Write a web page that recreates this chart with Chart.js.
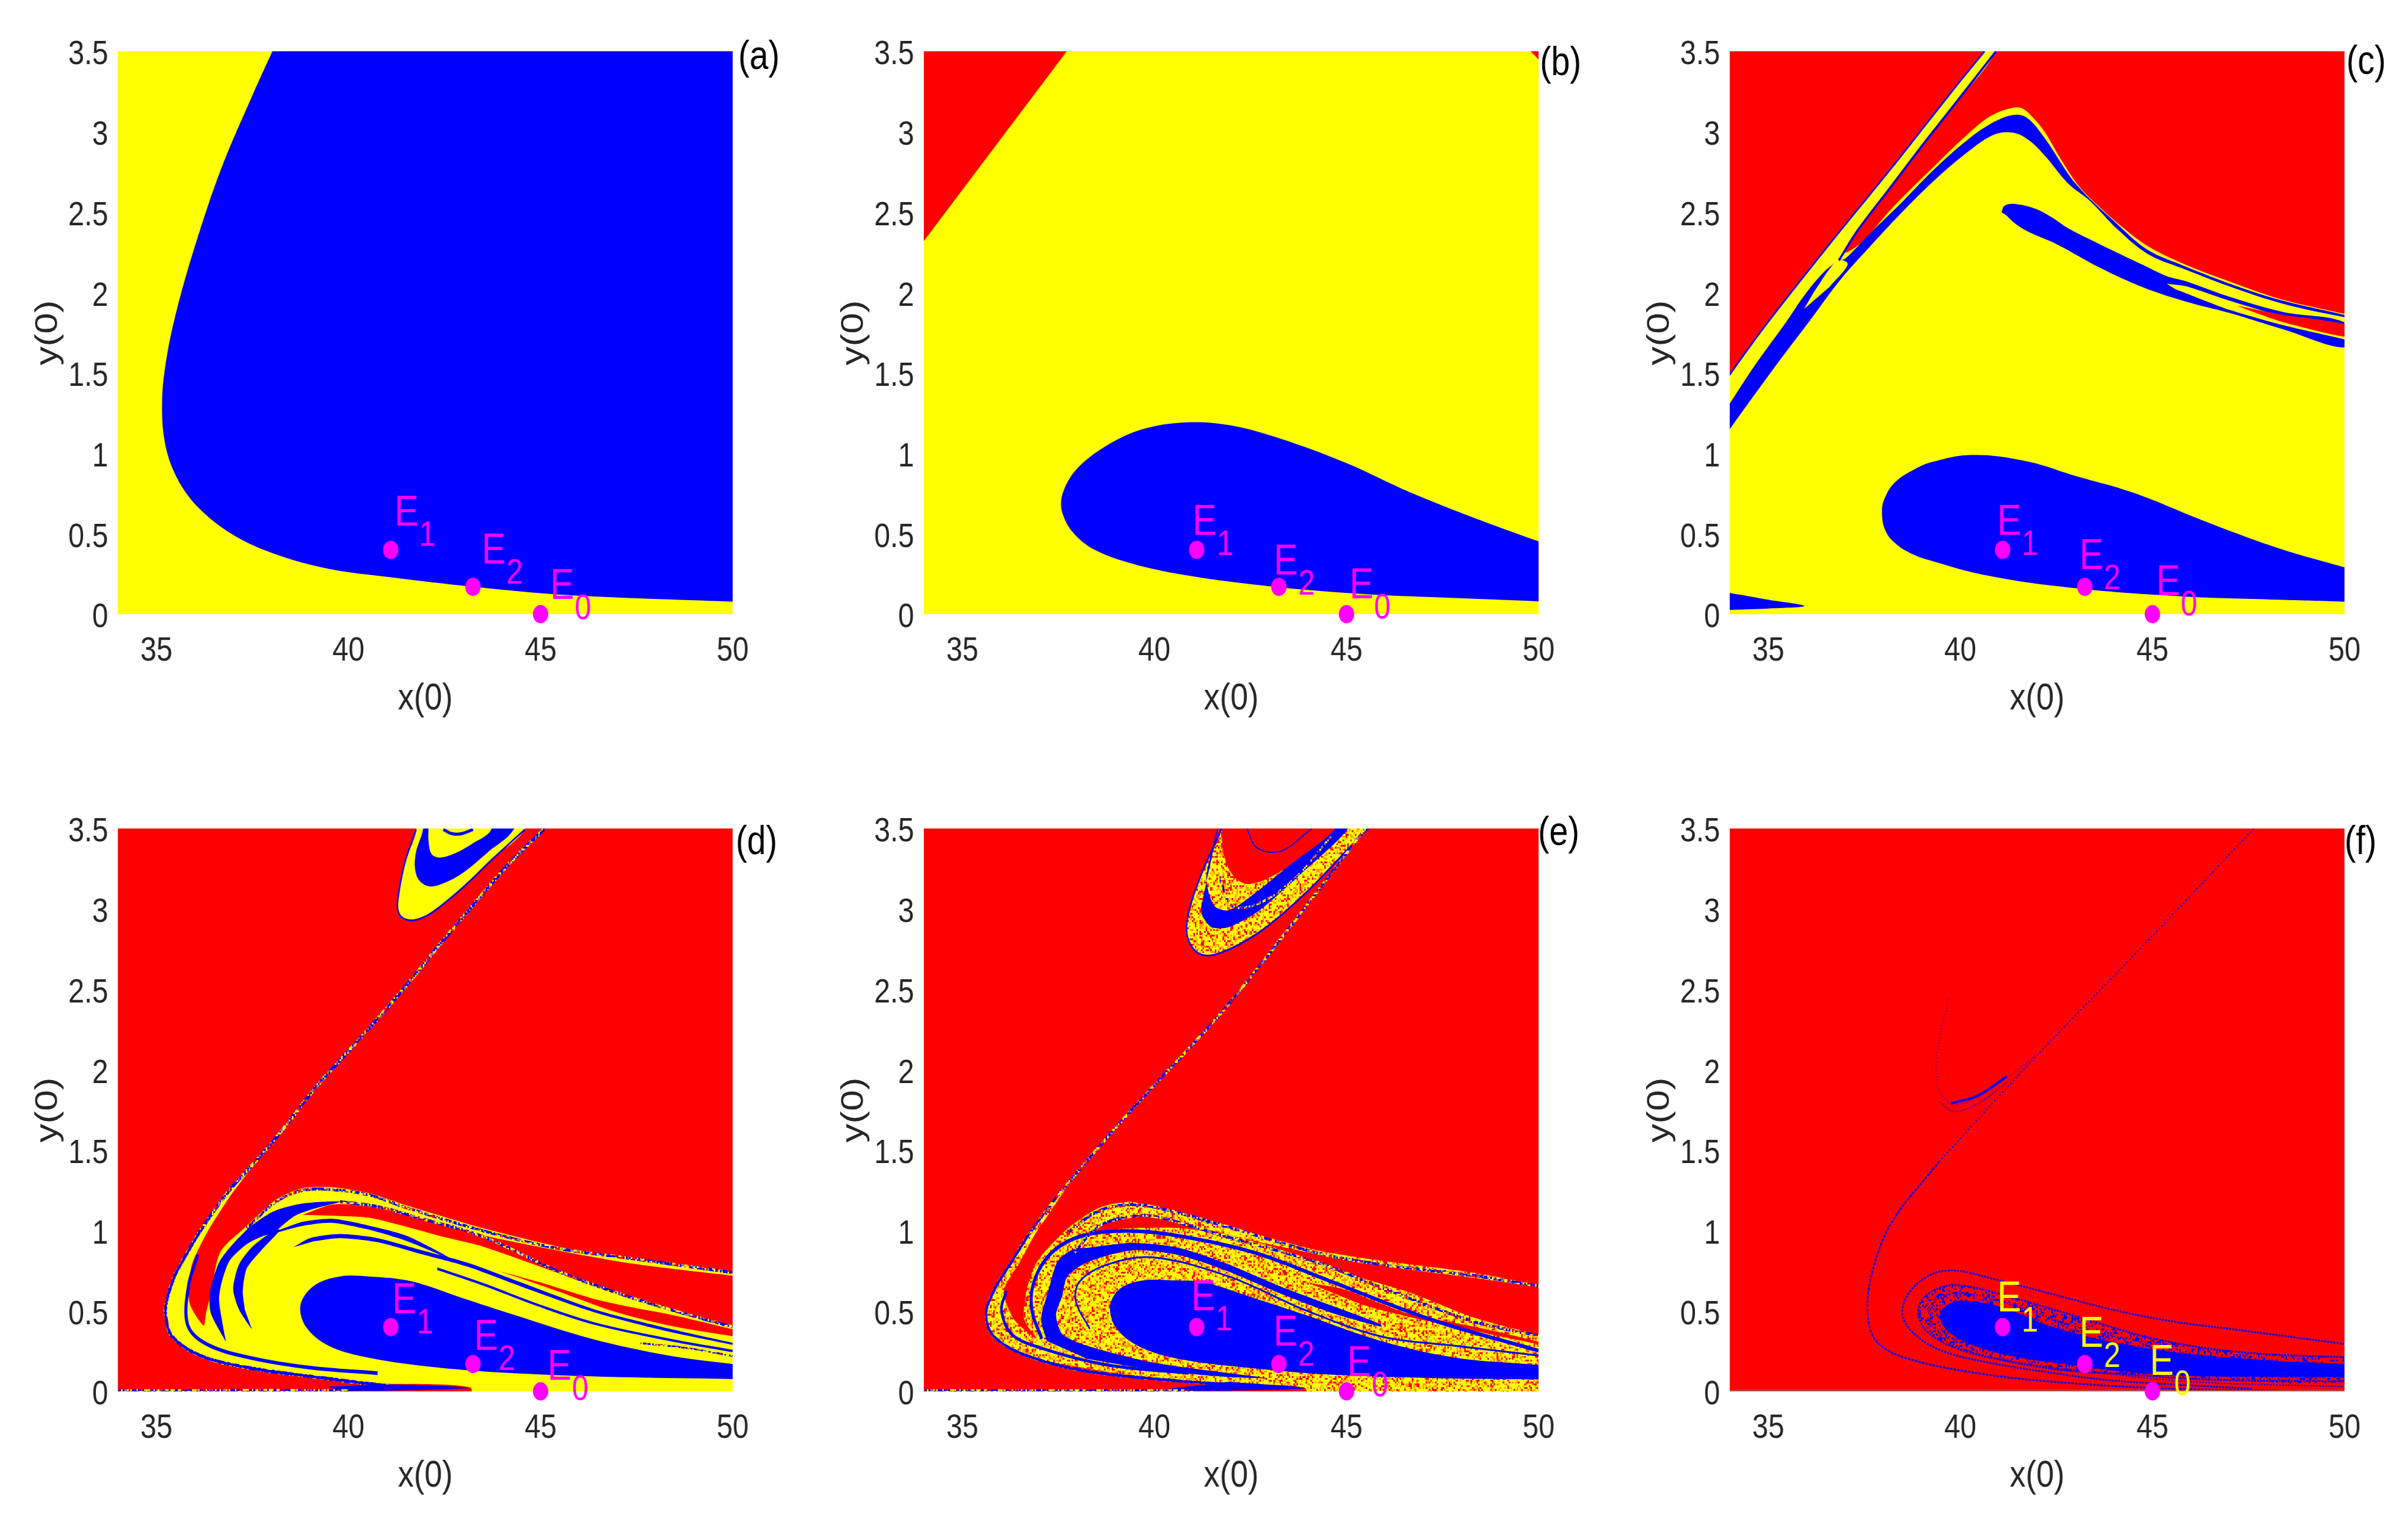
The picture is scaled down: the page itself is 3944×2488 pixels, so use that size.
<!DOCTYPE html>
<html><head><meta charset="utf-8">
<script src="https://cdn.jsdelivr.net/npm/chart.js@4"></script>
<style>html,body{margin:0;background:#fff}#root{position:relative;width:3944px;height:2488px;overflow:hidden}canvas{position:absolute}</style>
</head><body><div id="root"></div>
<script>
const xTicks=[35,40,45,50];
const yTicks=[0,0.5,1,1.5,2,2.5,3,3.5];
const equilibria=[[41.1,0.40],[43.24,0.17],[45,0]];
const eqNames=['1','2','0'];
const panelNames=['(a)','(b)','(c)','(d)','(e)','(f)'];
// label anchors (data units)
const labelsA=[[41.2,0.552],[43.47,0.315],[45.25,0.096]];
const labelsB=[[40.99,0.494],[43.11,0.246],[45.08,0.097]];
const labelsC=[[40.96,0.495],[43.1,0.282],[45.1,0.117]];
const labelsD=[[41.14,0.485],[43.27,0.259],[45.18,0.074]];
const labelsE=[[40.96,0.506],[43.1,0.283],[45.02,0.095]];
const labelsF=[[40.96,0.497],[43.1,0.277],[44.93,0.104]];

// (a)
const aBlue=[[38.6,3.8],[38.02,3.5],[37.48,3.215],[36.68,2.765],[36.0,2.285],[35.54,1.9],[35.27,1.6],[35.15,1.326],[35.23,1.056],[35.54,.846],[36.08,.666],[36.95,.5],[38.02,.38],[39.49,.282],[41.1,.23],[43.24,.171],[45.65,.12],[50,.078],[52,.06],[52,4.5],[39,4.5]];
// (b)
const bRedLeft=[[34,2.32],[37.72,3.5],[34,3.5]];
const bRedCorner=[[49.79,3.5],[50,3.45],[50,3.5]];
const bBlue=[[51.5,.33],[50,.453],[48.33,.598],[46.64,.759],[44.96,.943],[43.27,1.092],[42.01,1.173],[40.85,1.193],[39.69,1.15],[38.74,1.046],[38.0,.908],[37.64,.77],[37.58,.655],[37.85,.517],[38.43,.402],[39.48,.31],[40.95,.237],[43.06,.172],[45.38,.126],[47.5,.103],[50,.08],[51.5,.06]];
// (c)
const cYellow=[[33.5,1.31],[34,1.49],[35.01,1.821],[36.6,2.302],[38.19,2.769],[39.78,3.25],[40.63,3.5],[40.8,3.6],[40.93,3.5],[39.78,3.148],[39.03,2.921],[38.19,2.656],[37.34,2.39],[36.99,2.25],[37.44,2.314],[38.19,2.516],[39.25,2.769],[40.31,3.01],[40.84,3.104],[41.37,3.149],[41.63,3.142],[41.9,3.085],[42.2,2.997],[42.6,2.835],[43.09,2.66],[43.65,2.525],[44.2,2.41],[44.87,2.29],[45.76,2.184],[46.99,2.07],[48.38,1.956],[50.08,1.862],[51,1.8],[51,-.5],[33,-.5],[33,1.1]];
const cStripOuter=[[33.5,1.31],[34,1.49],[35.01,1.821],[36.6,2.302],[38.19,2.769],[39.78,3.25],[40.63,3.5]];
const cStripInner=[[36.84,2.2],[37.34,2.39],[38.19,2.656],[39.03,2.921],[39.78,3.148],[40.93,3.5]];
const cBlueBand=[[33.5,1.13],[34,1.31],[34.64,1.543],[35.48,1.821],[35.93,1.979],[36.44,2.125],[36.84,2.2],[37.0,2.21],[37.66,2.371],[38.45,2.554],[39.25,2.75],[40.04,2.921],[40.73,3.041],[41.37,3.104],[41.74,3.085],[42.2,2.959],[43.0,2.677],[44.09,2.424],[44.87,2.266],[45.76,2.171],[46.99,2.057],[48.38,1.95],[50.08,1.855],[50.08,1.843],[48.38,1.931],[46.99,2.039],[45.76,2.152],[44.87,2.241],[44.09,2.393],[43.37,2.57],[42.81,2.677],[42.2,2.851],[41.79,2.946],[41.37,2.994],[40.84,2.978],[40.04,2.845],[39.25,2.681],[38.45,2.491],[37.66,2.289],[36.86,2.074],[36.07,1.821],[35.19,1.543],[34,1.15],[33.5,.97]];
const cSliver=[[35.93,1.897],[36.28,2.036],[36.81,2.2],[37.07,2.175],[36.6,2.036]];
const cTail=[[41.07,2.5],[41.15,2.54],[41.42,2.551],[41.98,2.519],[42.4,2.465],[42.81,2.399],[43.65,2.298],[44.76,2.171],[45.37,2.102],[45.87,2.07],[46.99,1.975],[48.38,1.88],[50.08,1.805],[50.08,1.659],[48.38,1.773],[46.99,1.874],[45.87,1.944],[44.76,2.032],[43.65,2.152],[42.53,2.298],[41.75,2.38],[41.42,2.43],[41.2,2.48]];
const cTailSliver=[[45.37,2.055],[45.87,2.039],[46.99,1.95],[48.38,1.855],[50.08,1.792],[51,1.74],[51,1.65],[50.08,1.704],[48.38,1.798],[46.99,1.893],[46.15,1.969],[45.6,2.02]];
const cTailRed=[[47.21,1.918],[48.38,1.862],[50.08,1.798],[50.08,1.723],[48.38,1.817],[47.54,1.887]];
const cCorner=[[33.5,.15],[34,.132],[35,.09],[35.94,.051],[35,.035],[34,.027],[33.5,.025]];
const cDrop=[[51,.22],[50,.291],[48.27,.411],[46.38,.576],[44.49,.756],[42.98,.861],[41.72,.951],[40.33,.99],[39.32,.95],[38.8,.9],[38.3,.82],[38.03,.72],[37.96,.63],[38.05,.52],[38.31,.44],[38.7,.38],[39.19,.336],[40.71,.24],[42.98,.162],[45.75,.111],[48.27,.09],[50,.078],[51,.07]];
// (d)
const dYellow=[[50.8,.72],[50,.738],[47.37,.826],[45.43,.902],[43.48,1.016],[41.53,1.155],[40.56,1.231],[39.58,1.269],[38.8,1.263],[38.12,1.193],[37.35,1.029],[36.66,.865],[36.42,.612],[36.29,.485],[36.23,.409],[35.88,.536],[35.84,.662],[35.94,.8],[36.35,1.0],[36.88,1.2],[37.69,1.46],[36.74,1.2],[36.15,1.0],[35.69,.814],[35.47,.714],[35.27,.565],[35.24,.476],[35.41,.342],[36.14,.223],[37.35,.149],[38.95,.095],[40.56,.05],[43.17,.024],[43.25,-.1],[51,-.1]];
const dRed2=[[38.8,1.098],[39.58,1.162],[40.56,1.149],[41.53,1.098],[43.48,.972],[45.43,.877],[47.37,.795],[50,.719],[51,.7],[51,.38],[50,.41],[48.35,.517],[46.89,.612],[45.43,.738],[43.48,.902],[42.5,.959],[41.53,1.022],[40.56,1.079],[39.58,1.092]];
const dRed3=[[43.87,.751],[44.94,.681],[46.4,.574],[47.37,.523],[48.35,.479],[50,.386],[51,.33],[51,.32],[50,.344],[48.35,.409],[46.89,.498],[45.43,.624],[44.45,.706]];
const dDrop=[[51,.14],[50,.17],[48.33,.223],[46.32,.327],[44.31,.476],[42.97,.58],[41.63,.685],[40.56,.714],[39.76,.714],[39.09,.655],[38.75,.536],[38.89,.402],[39.49,.283],[40.56,.208],[42.3,.149],[44.31,.113],[46.99,.089],[50,.077],[51,.07]];
const dDiag=[[45.11,3.5],[44.17,3.279],[43.43,3.077],[42.31,2.76],[41.63,2.56],[40.4,2.22],[39.2,1.905],[38.27,1.623],[37.69,1.458],[36.9,1.25],[36.15,1.0],[35.69,.814],[35.47,.714],[35.27,.565],[35.24,.476],[35.41,.342],[36.14,.223],[37.35,.149],[38.95,.095],[41.14,.03]];
const dSpike=[[39.5,.03],[41.14,.043],[43.14,.022],[41.14,.005],[39.7,.002]];
const dArcC=[[36.08,.85],[35.84,.66],[35.81,.417],[36.28,.298],[37.35,.214],[38.95,.149],[40.76,.113]];
const dArcB=[[36.81,.308],[36.42,.485],[36.39,.612],[36.66,.814],[37.35,1.004],[38.03,1.117],[38.8,1.168],[39.78,1.18],[39.1,1.136],[38.61,1.092],[38.17,1.004],[38.8,1.054],[39.58,1.073],[40.56,1.029],[41.53,.966],[42.7,.82],[41.53,.934],[40.56,1.004],[39.58,1.048],[38.8,1.029],[38.17,.99],[37.78,.966],[37.35,.915],[36.91,.814],[36.71,.687],[36.63,.574],[36.71,.435]];
const dArcD=[[37.49,.384],[37.15,.51],[37.0,.637],[37.15,.789],[37.5,.9],[38.0,.99],[38.22,1.004],[37.73,.877],[37.35,.763],[37.25,.624],[37.3,.51]];
const dArcE=[[38.56,.896],[39.0,.953],[39.78,.978],[40.75,.953],[41.92,.877],[43.09,.801],[44.45,.681],[46.4,.51],[48.35,.39],[50,.302],[51,.25],[51,.23],[50,.289],[48.35,.371],[46.4,.492],[44.45,.656],[43.09,.776],[41.92,.852],[40.75,.928],[39.78,.953],[39.1,.934]];
const dStrand2=[[42.31,.763],[43.48,.668],[44.94,.536],[46.4,.422],[48.35,.321],[50,.251]];
const dStrand3=[[47.6,.3],[48.8,.27],[50,.22]];
const dTop=[[50,.738],[47.37,.826],[45.43,.89],[43.48,1.0],[41.53,1.14],[40.56,1.22],[39.58,1.255],[38.8,1.25],[38.12,1.18],[37.35,1.015]];
const dMid=[[39.78,1.18],[40.75,1.149],[42.02,1.067],[43.48,.965],[45.43,.75],[46.89,.62],[48.35,.51],[50,.40]];
const dBase=[[34,.006],[36,.006],[38,.008],[40,.006]];
const dLobe=[[41.6,3.7],[41.76,3.494],[41.47,3.29],[41.31,3.102],[41.28,3.0],[41.41,2.944],[41.73,2.931],[42.16,2.975],[42.95,3.127],[43.75,3.31],[44.59,3.494],[44.8,3.7]];
const dLobeBlue=[[42.0,3.7],[41.94,3.494],[41.76,3.355],[41.73,3.253],[41.84,3.178],[42.1,3.14],[42.47,3.159],[43.0,3.228],[43.64,3.355],[44.3,3.494],[44.5,3.7],[43.9,3.7],[43.72,3.494],[43.22,3.405],[42.74,3.342],[42.37,3.319],[42.16,3.342],[42.08,3.431],[42.08,3.494],[42.05,3.7]];
const dLobeArc=[[42.47,3.494],[42.69,3.468],[42.95,3.468],[43.24,3.494]];
const dLobeEdge=[[41.76,3.494],[41.47,3.29],[41.31,3.102],[41.28,3.0],[41.41,2.944],[41.73,2.931],[42.16,2.975],[42.95,3.127],[43.75,3.31],[44.59,3.494]];
// (e)
const eMain=[[51,.64],[50,.662],[48.3,.738],[45.87,.814],[44.25,.877],[42.63,.978],[41.0,1.092],[39.79,1.155],[39.38,1.18],[38.57,1.143],[37.76,1.016],[36.94,.804],[36.67,.625],[36.61,.446],[36.94,.327],[36.35,.446],[36.08,.625],[36.5,.804],[36.9,.98],[37.3,1.12],[37.9,1.34],[37.15,1.12],[36.74,.98],[36.28,.804],[35.82,.625],[35.62,.476],[35.82,.342],[36.67,.223],[37.73,.164],[39.31,.104],[41.94,.045],[43.92,.021],[44,-.1],[51,-.1]];
const eRed2=[[38.33,.978],[38.98,1.079],[39.79,1.092],[41.0,1.029],[42.63,.934],[44.25,.852],[45.87,.782],[48.3,.706],[50,.65],[51,.62],[51,.31],[50,.352],[48.3,.46],[46.68,.612],[45.46,.7],[44.25,.801],[43.03,.902],[41.82,.978],[40.6,1.016],[39.54,1.016],[38.73,1.003]];
const eRed3=[[44.0,.675],[44.9,.637],[45.87,.548],[46.68,.479],[48.3,.403],[50,.308],[50,.295],[48.3,.378],[46.68,.46],[45.46,.536],[44.65,.612]];
const eDrop=[[51,.13],[50,.164],[47.87,.208],[45.9,.313],[43.92,.476],[42.6,.58],[41.29,.679],[40.5,.69],[39.7,.69],[39.11,.64],[38.85,.536],[38.98,.402],[39.57,.283],[40.63,.202],[42.34,.149],[44.58,.104],[47.21,.083],[50,.074],[51,.07]];
const eArc2=[[37.07,.327],[36.81,.506],[36.87,.685],[37.33,.863],[38.12,.967],[39.31,.997],[40.63,.967],[42.6,.863],[44.58,.685],[47.21,.446],[50,.253]];
const eThick=[[37.2,.313],[37.05,.45],[37.24,.625],[37.47,.804],[37.85,.88],[38.26,.893],[39.44,.923],[40.63,.893],[41.94,.789],[43.26,.655],[44.58,.536],[45.9,.417],[45.9,.402],[44.58,.491],[43.26,.61],[41.94,.744],[40.63,.848],[39.44,.878],[38.26,.804],[37.73,.714],[37.6,.595],[37.44,.476],[37.6,.357],[38.26,.283],[39.97,.179],[41.94,.113],[42.93,.083],[41.94,.089],[39.97,.134],[38.26,.202]];
const eThin=[[38.32,.387],[37.95,.565],[38.06,.685],[38.78,.789],[39.97,.833],[41.94,.714],[43.92,.506],[45.9,.342],[47.87,.283],[50,.223]];
const eDiag=[[45.5,3.5],[41.94,2.411],[39.31,1.726],[37.6,1.25],[36.74,.98],[36.28,.804],[35.82,.625],[35.62,.476],[35.82,.342],[36.67,.223],[38.26,.125],[40.63,.065],[41.94,.045]];
const eSpike=[[41.94,.06],[43.92,.021],[41.94,.005],[39.9,.003]];
const eArcC=[[36.15,.625],[36.02,.506],[36.28,.357],[37.07,.268],[38.78,.164],[40.89,.113]];
const eTop1=[[37.76,.991],[38.57,1.124],[39.38,1.161],[40.19,1.136],[41.82,1.029],[44.25,.86],[45.87,.79],[48.3,.72],[50,.655]];
const eTop2=[[37.92,.865],[38.57,1.029],[39.54,1.092],[40.19,1.079],[41.82,.966],[44.25,.801],[45.87,.65],[48.3,.435],[50,.346]];
const eBase=[[34,.006],[37,.006],[41,.006]];
const eLobe=[[41.6,3.7],[41.75,3.5],[41.22,3.214],[40.89,2.976],[40.86,2.827],[41.15,2.723],[41.68,2.723],[42.74,2.857],[43.92,3.095],[45.24,3.423],[45.57,3.5],[45.8,3.7]];
const eLobeRed=[[41.7,3.7],[41.75,3.5],[41.81,3.333],[42.08,3.199],[42.47,3.155],[43.26,3.229],[44.05,3.363],[44.58,3.452],[44.97,3.5],[45.1,3.7]];
const eLobeBlue=[[41.75,3.6],[41.29,3.095],[41.22,2.976],[41.48,2.887],[41.94,2.887],[42.74,2.991],[43.79,3.214],[45.04,3.5],[45.2,3.7],[44.9,3.7],[44.71,3.5],[43.53,3.274],[42.6,3.095],[41.94,2.991],[41.55,3.021],[41.35,3.185],[41.55,3.423]];
const eLobeEdge=[[41.75,3.5],[41.22,3.214],[40.89,2.976],[40.86,2.827],[41.15,2.723],[41.68,2.723],[42.74,2.857],[43.92,3.095],[45.24,3.423],[45.57,3.5]];
const eLobeLine1=[[41.7,3.2],[42.0,3.02],[42.77,3.04],[43.7,3.2],[44.6,3.45]];
const eLobeLine2=[[42.4,3.5],[42.67,3.38],[43.3,3.36],[44.1,3.5]];
// (f)
const fDrop=[[51,.15],[50,.169],[47.98,.194],[45.55,.245],[43.93,.308],[42.3,.409],[41.09,.523],[40.28,.561],[39.79,.555],[39.47,.485],[39.59,.397],[40.12,.308],[41.09,.232],[42.71,.169],[44.74,.112],[46.36,.093],[50,.087],[51,.085]];
const fArc1Up=[[47.64,3.5],[44.74,2.768],[41.97,2.083],[39.45,1.429]];
const fArc1=[[39.45,1.429],[38.19,1.042],[37.68,.714],[37.59,.476],[37.81,.313],[38.57,.208],[40.71,.104],[43.23,.045],[45.75,.015],[48.27,.006]];
const fArc2=[[50,.295],[47.17,.384],[45.55,.434],[43.93,.51],[42.3,.611],[40.85,.7],[39.87,.751],[39.22,.725],[38.66,.611],[38.49,.485],[38.74,.371],[39.47,.257],[40.68,.182],[42.3,.118],[43.93,.068],[45.55,.043],[47.58,.017]];
const fArc3=[[50,.213],[47.98,.232],[46.36,.27],[44.74,.346],[43.12,.46],[41.5,.574],[40.28,.649],[39.63,.656],[39.06,.586],[38.9,.485],[39.14,.371],[39.87,.27],[41.09,.194],[42.71,.131],[44.33,.106],[46.36,.074],[50,.062]];
const fArc4=[[39.18,.485],[39.35,.567],[39.87,.611],[40.68,.586],[42.0,.485],[43.5,.37],[45.5,.28]];
const fArc5=[[39.18,.485],[39.4,.36],[40.1,.26],[41.5,.18],[43.5,.12],[46,.06],[50,.03]];
const fLobe=[[39.7,2.44],[39.38,2.083],[39.45,1.875],[39.83,1.786],[40.46,1.83],[41.21,1.949],[42.1,2.113]];
const fLobeCore=[[39.75,1.79],[40.46,1.84],[41.21,1.96]];
const fLobeLow=[[39.45,1.8],[39.83,1.74],[40.46,1.79],[41.21,1.92]];
const fBase=[[34,.004],[50,.004]];

const BLUE='#0000ff',YEL='#ffff00',RED='#ff0000',MAG='#ff00ff',INK='#262626';
const FONT='"Liberation Sans",sans-serif';

function texture(colors,cut,cell,size){
  const c=document.createElement('canvas');c.width=c.height=size*cell;
  const g=c.getContext('2d');let s=12345;
  for(let j=0;j<size;j++)for(let i=0;i<size;i++){
    s=(s*1103515245+12345)&0x7fffffff;
    const u=((s>>8)&1023)/1023;let k=0;
    while(k<cut.length-1&&u>cut[k])k++;
    g.fillStyle=colors[k];g.fillRect(i*cell,j*cell,cell,cell);
  }
  return g.createPattern(c,'repeat');
}
const SPECK=texture([YEL,'#ff9900',RED],[.62,.82,1],3,128);
const MIXED=texture([BLUE,YEL,'#8080a0',RED],[.42,.68,.85,1],3,64);
const SPARSE=texture([RED,BLUE],[.72,1],3,128);

// the reference is squeezed horizontally, so each canvas is drawn wider and shown at this ratio
const SQ=.84;
const PL=[193.5,1513.5,2833.5],PT=[84,1357];
const PW=Math.round(1006/SQ),PH=922;
const YW=Math.round(194/SQ),T=60,R=Math.round(90/SQ),XH=170;

const panels=[
 {col:0,row:0,bg:YEL,labels:labelsA,tag:[9,11],lc:MAG,layers:[{p:aBlue,f:BLUE}]},
 {col:1,row:0,bg:YEL,labels:labelsB,tag:[2,21],lc:MAG,layers:[{p:bRedLeft,f:RED,t:0},{p:bRedCorner,f:RED,t:0},{p:bBlue,f:BLUE}]},
 {col:2,row:0,bg:RED,labels:labelsC,tag:[3,19],lc:MAG,layers:[
   {p:cYellow,f:YEL,t:.35},{p:cDrop,f:BLUE,t:.4},{p:cCorner,f:BLUE},
   {p:cBlueBand,f:BLUE,t:.35},{p:cSliver,f:YEL},{p:cTail,f:BLUE,t:.35},{p:cTailSliver,f:YEL,t:.25},{p:cTailRed,f:RED,t:.2},
   {p:cStripOuter,s:BLUE,w:3},{p:cStripInner,s:BLUE,w:4}]},
 {col:0,row:1,bg:RED,labels:labelsD,tag:[5,24],lc:MAG,layers:[
   {p:dLobe,f:YEL},{p:dLobeBlue,f:BLUE},{p:dLobeArc,s:BLUE,w:5},{p:dLobeEdge,s:BLUE,w:3},
   {p:dYellow,f:YEL,t:.25},{p:dRed2,f:RED,t:.25},{p:dRed3,f:RED,t:.25},
   {p:dDrop,f:BLUE},{p:dDiag,s:MIXED,w:6},{p:dDiag.slice(10),s:BLUE,w:4},{p:dSpike,f:BLUE},{p:dArcC,s:BLUE,w:6},
   {p:dArcB,f:BLUE,t:.25},{p:dArcD,f:BLUE,t:.25},{p:dArcE,f:BLUE,t:.25},{p:dStrand2,s:BLUE,w:4},{p:dStrand3,s:MIXED,w:3},
   {p:dTop,s:MIXED,w:5},{p:dMid,s:MIXED,w:5},{p:dBase,s:MIXED,w:4}]},
 {col:1,row:1,bg:RED,labels:labelsE,tag:[-1,9],lc:MAG,layers:[
   {p:eLobe,f:SPECK},{p:eLobeRed,f:RED},{p:eLobeBlue,f:BLUE,t:.25},{p:eLobeEdge,s:BLUE,w:3},{p:eLobeLine1,s:MIXED,w:4},{p:eLobeLine2,s:BLUE,w:2},
   {p:eMain,f:SPECK,t:.25},{p:eRed2,f:RED,t:.25},{p:eRed3,f:RED,t:.25},
   {p:eDrop,f:BLUE},{p:eDiag,s:MIXED,w:5},{p:eDiag.slice(4),s:BLUE,w:4},{p:eSpike,f:BLUE},{p:eArcC,s:BLUE,w:5},
   {p:eArc2,s:BLUE,w:6},{p:eThick,f:BLUE,t:.25},{p:eThin,s:BLUE,w:3},{p:eTop1,s:MIXED,w:5},{p:eTop2,s:MIXED,w:5},{p:eBase,s:MIXED,w:4}]},
 {col:2,row:1,bg:RED,labels:labelsF,tag:[0,24],lc:YEL,layers:[
   {p:fArc3.concat([[50,.213]]),f:SPARSE,t:.25},
   {p:fDrop,f:BLUE},{p:fArc1Up,s:BLUE,w:2,d:[3,4]},{p:fArc1,s:BLUE,w:3,d:[5,2]},{p:fArc2,s:BLUE,w:3,d:[4,2]},{p:fArc3,s:BLUE,w:3,d:[4,2]},{p:fArc4,s:BLUE,w:2,d:[3,3]},{p:fArc5,s:BLUE,w:2,d:[3,3]},
   {p:fLobe,s:BLUE,w:2,d:[1,4]},{p:fLobeCore,s:BLUE,w:4},{p:fLobeLow,s:BLUE,w:2,d:[2,3]},{p:fBase,s:'#b05050',w:3}]}
];

const pts=a=>a.map(([x,y])=>({x,y}));

const chrome={id:'chrome',
 beforeDatasetsDraw(chart,_,o){const a=chart.chartArea,c=chart.ctx;c.save();c.fillStyle=o.bg;c.fillRect(a.left,a.top,a.width,a.height);c.restore();},
 afterDatasetsDraw(chart,_,o){
   const c=chart.ctx,sx=chart.scales.x,sy=chart.scales.y;
   c.save();c.textAlign='left';c.textBaseline='alphabetic';c.fillStyle=o.lc;
   o.labels.forEach(([x,y],i)=>{
     const px=sx.getPixelForValue(x),py=sy.getPixelForValue(y);
     c.font='70px '+FONT;c.fillText('E',px,py);
     c.font='58px '+FONT;c.fillText(eqNames[i],px+40/SQ,py+33);
   });
   c.fillStyle='#000';c.font='66px '+FONT;c.textBaseline='middle';
   c.fillText(o.name,chart.chartArea.right+o.tag[0]/SQ,chart.chartArea.top+o.tag[1]);
   c.restore();
 }};

panels.forEach((P,i)=>{
  const cv=document.createElement('canvas');
  const W=YW+PW+R,H=T+PH+XH;
  cv.width=W;cv.height=H;
  cv.style.left=(PL[P.col]-YW*SQ)+'px';cv.style.top=(PT[P.row]-T)+'px';
  cv.style.width=(W*SQ)+'px';cv.style.height=H+'px';
  document.getElementById('root').appendChild(cv);
  const layers=P.layers.map(L=>({
    data:pts(L.p),showLine:true,pointRadius:0,
    tension:L.t===undefined?.35:L.t,
    fill:L.f?'shape':false,
    backgroundColor:L.f||'rgba(0,0,0,0)',
    borderColor:L.s||'rgba(0,0,0,0)',
    borderWidth:L.s?L.w:0,
    borderDash:L.d||[],
    clip:0
  }));
  const marker={data:pts(equilibria),showLine:false,pointStyle:'circle',pointRadius:15,pointBackgroundColor:MAG,pointBorderWidth:0,clip:false};
  new Chart(cv,{type:'scatter',
    data:{datasets:[marker].concat(layers.reverse())},
    options:{responsive:false,animation:false,devicePixelRatio:1,
      layout:{padding:{top:T,right:R,left:0,bottom:0}},
      elements:{line:{capBezierPoints:false}},
      plugins:{legend:{display:false},tooltip:{enabled:false},
        chrome:{bg:P.bg,labels:P.labels,lc:P.lc,tag:P.tag,name:panelNames[i]}},
      scales:{
        x:{type:'linear',min:34,max:50,
          afterBuildTicks(s){s.ticks=xTicks.map(v=>({value:v}));},
          afterFit(s){s.height=XH;},
          grid:{display:false,drawTicks:false},border:{display:false},
          ticks:{color:INK,font:{family:FONT,size:56},padding:27,maxRotation:0,autoSkip:false,callback:v=>String(v)},
          title:{display:true,text:'x(0)',color:INK,font:{family:FONT,size:62,lineHeight:1},padding:{top:4,bottom:0}}},
        y:{type:'linear',min:0,max:3.5,
          afterBuildTicks(s){s.ticks=yTicks.map(v=>({value:v}));},
          afterFit(s){s.width=YW;},
          afterUpdate(s){const f=s._computeLabelItems;s._computeLabelItems=function(a){const it=f.call(this,a);it.forEach(k=>{k.options.translation[1]+=3;});return it;};},
          grid:{display:false,drawTicks:false},border:{display:false},
          ticks:{color:INK,font:{family:FONT,size:56},padding:19,autoSkip:false,callback:v=>String(v)},
          title:{display:true,text:'y(0)',color:INK,font:{family:FONT,size:62,lineHeight:1},padding:{top:64,bottom:0}}}
      }},
    plugins:[chrome]});
});
</script></body></html>
